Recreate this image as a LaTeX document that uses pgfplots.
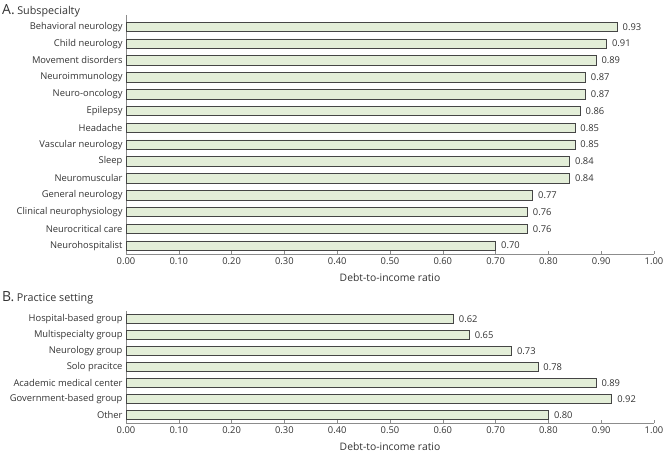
\documentclass[border=0pt]{standalone}
\usepackage{fontspec}
\setmainfont{Open Sans}
\usepackage{pgfplots}
\pgfplotsset{compat=1.18}
\definecolor{barfill}{HTML}{E3EED8}
\definecolor{barline}{HTML}{454545}
\definecolor{axgray}{HTML}{8C8C8C}
\definecolor{txt}{HTML}{333333}

\pgfplotsset{
  dti/.style={
    scale only axis, width=528bp,
    xbar, bar width=9.5bp,
    xmin=0, xmax=1,
    y dir=reverse,
    axis x line*=bottom, axis y line*=left,
    axis line style={axgray, line width=0.8pt},
    xtick={0,0.1,...,1.0},
    x tick label style={/pgf/number format/.cd, fixed, fixed zerofill, precision=2},
    /pgf/number format/assume math mode=true,
    tick align=inside, xtick style={axgray, line width=0.6pt}, major tick length=3bp,
    ytick=data, ytick style={draw=none},
    tick label style={font=\fontsize{9.4}{11}\selectfont, txt},
    xlabel={Debt-to-income ratio},
    xlabel style={font=\fontsize{10.4}{12}\selectfont, txt, yshift=-2bp},
    nodes near coords,
    nodes near coords style={font=\fontsize{9.4}{11}\selectfont, txt, anchor=west, xshift=2bp,
      /pgf/number format/.cd, fixed, fixed zerofill, precision=2, assume math mode=true},
    clip=false,
  },
  dtibar/.style={fill=barfill, draw=barline, line width=0.6pt},
}

\begin{document}
\begin{tikzpicture}
  \useasboundingbox (0,0) rectangle (664bp,453bp);
  \node[anchor=base west, inner sep=0pt, txt] at (2bp,438bp)
    {{\fontsize{14}{16}\selectfont A.} {\fontsize{10.8}{12}\selectfont Subspecialty}};
  \node[anchor=base west, inner sep=0pt, txt] at (2bp,151bp)
    {{\fontsize{14}{16}\selectfont B.} {\fontsize{10.8}{12}\selectfont Practice setting}};

  \begin{axis}[dti,
    at={(126bp,199bp)}, anchor=south west,
    height=239bp,
    ymin=-0.7, ymax=13.5,
    yticklabels={Behavioral neurology, Child neurology, Movement disorders,
      Neuroimmunology, Neuro-oncology, Epilepsy, Headache, Vascular neurology,
      Sleep, Neuromuscular, General neurology, Clinical neurophysiology,
      Neurocritical care, Neurohospitalist},
  ]
    \addplot[dtibar] coordinates {
      (0.93,0) (0.91,1) (0.89,2) (0.87,3) (0.87,4) (0.86,5) (0.85,6)
      (0.85,7) (0.84,8) (0.84,9) (0.77,10) (0.76,11) (0.76,12) (0.70,13)};
  \end{axis}

  \begin{axis}[dti,
    at={(126bp,30bp)}, anchor=south west,
    height=112bp,
    ymin=-0.5, ymax=6.5,
    yticklabels={Hospital-based group, Multispecialty group, Neurology group,
      Solo pracitce, Academic medical center, Government-based group, Other},
  ]
    \addplot[dtibar] coordinates {
      (0.62,0) (0.65,1) (0.73,2) (0.78,3) (0.89,4) (0.92,5) (0.80,6)};
  \end{axis}
\end{tikzpicture}
\end{document}
